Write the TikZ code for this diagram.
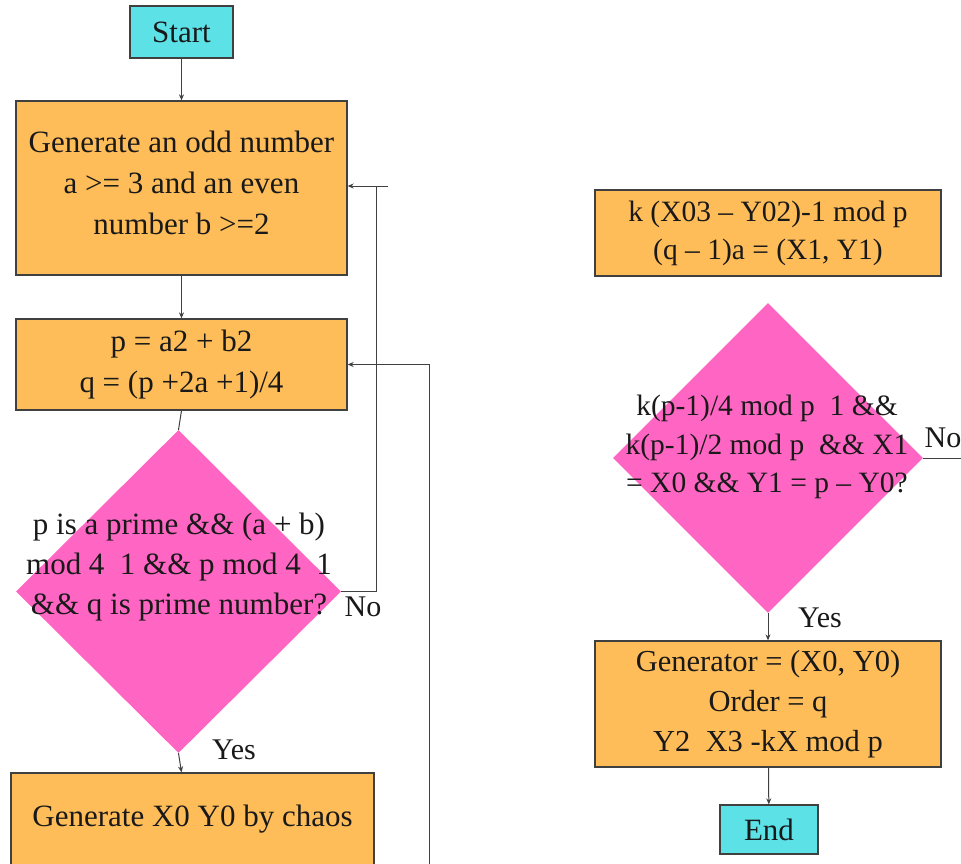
\documentclass[tikz,border=0pt]{standalone}
\usepackage{fontspec}
\setmainfont{Liberation Serif}
\usetikzlibrary{arrows.meta,shapes.geometric}
\definecolor{sky}{HTML}{5CE1E6}
\definecolor{sand}{HTML}{FFBD59}
\definecolor{rose}{HTML}{FF66C4}
\definecolor{ink}{HTML}{404040}
\tikzset{
  box/.style={rectangle, draw=ink, fill=sand, line width=1.3pt, align=center,
              inner sep=0pt, text=black!90, font=\fontsize{31}{41}\selectfont},
  termbox/.style={box, fill=sky},
  decide/.style={diamond, fill=rose, draw=none, inner sep=0pt},
  qtxt/.style={align=center, inner sep=0pt, text=black!90, font=\fontsize{31}{40}\selectfont},
  lbl/.style={inner sep=0pt, text=black!90, font=\fontsize{30}{36}\selectfont},
  flow/.style={-{Stealth[length=6pt,width=5pt]}, draw=ink, line width=1pt},
  link/.style={draw=ink, line width=1pt}
}

\begin{document}
\begin{tikzpicture}[x=1pt,y=-1pt]
 \useasboundingbox (0,0) rectangle (961,863);
 \clip (0,0) rectangle (961,863);
 \fill[white] (0,0) rectangle (961,863);

 \node[termbox, minimum width=103pt, minimum height=52pt] (start) at (181.5,32) {Start};
 \node[box, minimum width=331pt, minimum height=174pt, text depth=10pt] (gen) at (181.5,188)
   {Generate an odd number\\ a >= 3 and an even\\ number b >=2};
 \node[box, minimum width=331pt, minimum height=91pt] (pq) at (181.5,364.5)
   {p = a2 + b2\\ q = (p +2a +1)/4};
 \node[decide, minimum width=325pt, minimum height=323pt] (prime) at (178.5,591.5) {};
 \node[qtxt] (primetxt) at (179,567)
   {p is a prime \&\& (a + b)\\ mod 4~~1 \&\& p mod 4~~1\\ \&\& q is prime number?};
 \node[lbl] (no1) at (363,607) {No};
 \node[lbl] (yes1) at (234,750) {Yes};
 \node[box, minimum width=363pt, minimum height=100pt, text depth=14pt] (chaos) at (192.5,823)
   {Generate X0 Y0 by chaos};

 \node[box, minimum width=346pt, minimum height=86pt,
       font=\fontsize{29.5}{38}\selectfont] (inv) at (768,233)
   {k (X03 – Y02)-1 mod p\\ (q – 1)a = (X1, Y1)};
 \node[decide, minimum width=310pt, minimum height=310pt] (check) at (768,458) {};
 \node[qtxt, font=\fontsize{29.5}{38.5}\selectfont] (checktxt) at (767,447)
   {k(p-1)/4 mod p~~1 \&\&\\ k(p-1)/2 mod p~~\&\& X1\\ = X0 \&\& Y1 = p – Y0?};
 \node[lbl] (no2) at (943,438) {No};
 \node[lbl] (yes2) at (820,618) {Yes};
 \node[box, minimum width=346pt, minimum height=126pt,
       font=\fontsize{30.5}{40}\selectfont] (result) at (768,704)
   {Generator = (X0, Y0)\\ Order = q\\ Y2~~X3 -kX mod p};
 \node[termbox, minimum width=98pt, minimum height=49pt] (end) at (769,829.5) {End};

 \coordinate (turnA) at (376,186);
 \coordinate (stubA) at (388,186);
 \coordinate (footB) at (429,870);
 \coordinate (outC) at (965,458);

 \draw[flow] (start) -- (gen);
 \draw[flow] (gen) -- (pq);
 \draw[link] (pq.south) -- (prime.north);
 \draw[flow] (prime.south) -- (chaos.north -| gen.south);
 \draw[link] (prime.east) -| (turnA);
 \draw[flow] (stubA) -- (gen.east |- stubA);
 \draw[flow] (footB) |- (pq.east);
 \draw[link] (check.east) -- (outC);
 \draw[flow] (check.south) -- (result.north);
 \draw[flow] (result) -- (end);
\end{tikzpicture}
\end{document}
